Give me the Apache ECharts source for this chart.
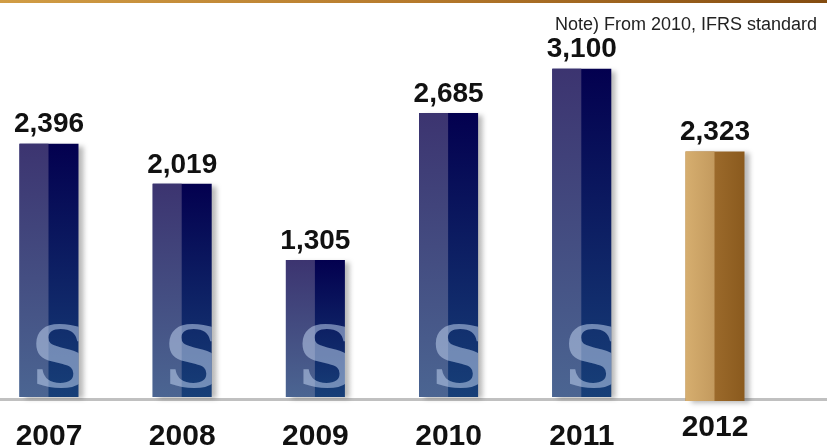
<!DOCTYPE html>
<html>
<head>
<meta charset="utf-8">
<script src="https://cdn.jsdelivr.net/npm/echarts@6/dist/echarts.min.js"></script>
<style>
  html, body { margin: 0; padding: 0; background: #fff; }
  #chart { width: 827px; height: 447px; }
</style>
</head>
<body>
<div id="chart"></div>
<script>
// Yearly figures; 2012 is drawn in gold, earlier years in navy.
const years = ['2007', '2008', '2009', '2010', '2011', '2012'];
const values = [2396, 2019, 1305, 2685, 3100, 2323];
const highlightYear = '2012';
const noteText = 'Note) From 2010, IFRS standard';

const navy = {
  right: ['#03004f', '#173f78'],
  left: ['#3c3470', '#4b6592']
};
const gold = {
  right: ['#ac7937', '#8a5a1e'],
  left: ['#d6ae6f', '#c39a5e']
};
const boldFont = 'Liberation Sans, Arial, sans-serif';

function vGrad(c) {
  return new echarts.graphic.LinearGradient(0, 0, 0, 1, [
    { offset: 0, color: c[0] }, { offset: 1, color: c[1] }
  ]);
}
function hGrad(c) {
  return new echarts.graphic.LinearGradient(0, 0, 1, 0, [
    { offset: 0, color: c[0] }, { offset: 1, color: c[1] }
  ]);
}

const chart = echarts.init(document.getElementById('chart'), null, { renderer: 'canvas' });

function renderBar(params, api) {
  const idx = api.value(0);
  const val = api.value(1);
  const top = api.coord([idx, val]);
  const base = api.coord([idx, 0]);
  const bw = 59;
  const x = top[0] - bw / 2;
  const y = top[1];
  const h = base[1] - top[1];
  const isGold = years[idx] === highlightYear;
  const pal = isGold ? gold : navy;
  const grad = isGold ? hGrad : vGrad;
  const split = Math.round(bw * 0.49);
  const bh = isGold ? h + 2 : h - 2;
  const children = [
    {
      type: 'rect',
      shape: { x: x, y: y, width: bw, height: bh },
      style: {
        fill: grad(pal.right),
        shadowBlur: 5, shadowOffsetX: 5, shadowOffsetY: 2,
        shadowColor: 'rgba(0,0,0,0.28)'
      }
    },
    {
      type: 'rect',
      shape: { x: x, y: y, width: split, height: bh },
      style: { fill: grad(pal.left) }
    }
  ];
  if (!isGold) {
    // emblem watermark near the foot of each navy bar, clipped to the bar
    const tx = x + bw / 2 + 12;
    const ty = base[1] + 8;
    children.push({
      type: 'text',
      x: tx,
      y: ty,
      style: {
        text: 'S',
        fontSize: 84,
        fontWeight: 'bold',
        fontFamily: 'DejaVu Serif',
        fill: 'rgba(190,208,236,0.55)',
        align: 'center',
        verticalAlign: 'bottom'
      },
      clipPath: {
        type: 'rect',
        shape: { x: x - tx, y: y - ty, width: bw, height: bh }
      }
    });
  }
  children.push({
    type: 'text',
    x: top[0],
    y: y - 5,
    style: {
      text: echarts.format.addCommas(val),
      fontSize: 28,
      fontWeight: 'bold',
      fontFamily: boldFont,
      fill: '#111',
      align: 'center',
      verticalAlign: 'bottom'
    }
  });
  return { type: 'group', children: children };
}

chart.setOption({
  animation: false,
  backgroundColor: '#fff',
  graphic: [
    {
      type: 'rect',
      left: 0, top: 0,
      shape: { width: 827, height: 3 },
      style: {
        fill: new echarts.graphic.LinearGradient(0, 0, 1, 0, [
          { offset: 0, color: '#d19d45' },
          { offset: 0.5, color: '#b67a2c' },
          { offset: 1, color: '#844c10' }
        ])
      }
    }
  ],
  title: {
    text: noteText,
    right: 5,
    top: 11,
    textStyle: {
      fontSize: 18,
      fontWeight: 'normal',
      color: '#222',
      fontFamily: boldFont
    }
  },
  grid: [
    { left: 49, right: 112, top: 58, bottom: 48, outerBoundsMode: 'none' },
    { left: 0, right: 0, top: 58, bottom: 48, outerBoundsMode: 'none' }
  ],
  xAxis: [
    {
      type: 'category',
      gridIndex: 0,
      boundaryGap: false,
      data: years,
      axisLine: { show: false },
      axisTick: { show: false },
      axisLabel: {
        margin: 10,
        verticalAlign: 'top',
        formatter: function (v) {
          return v === highlightYear ? '{h|' + v + '}' : '{n|' + v + '}';
        },
        rich: {
          n: {
            fontSize: 30, fontWeight: 'bold', color: '#111',
            fontFamily: boldFont,
            lineHeight: 30, padding: [25, 0, 0, 0]
          },
          h: {
            fontSize: 30, fontWeight: 'bold', color: '#111',
            fontFamily: boldFont,
            lineHeight: 30, padding: [8, 0, 0, 0]
          }
        }
      }
    },
    {
      type: 'value',
      gridIndex: 1,
      min: 0, max: 1,
      axisLine: { show: true, lineStyle: { color: '#c0c0c0', width: 3 } },
      axisTick: { show: false },
      axisLabel: { show: false },
      splitLine: { show: false }
    }
  ],
  yAxis: [
    {
      type: 'value',
      gridIndex: 0,
      min: 0, max: 3200,
      show: false,
      splitLine: { show: false }
    },
    {
      type: 'value',
      gridIndex: 1,
      min: 0, max: 1,
      show: false,
      splitLine: { show: false }
    }
  ],
  series: [
    {
      type: 'custom',
      xAxisIndex: 0,
      yAxisIndex: 0,
      z: 5,
      renderItem: renderBar,
      data: values.map(function (v, i) { return [i, v]; })
    }
  ]
});
</script>
</body>
</html>
